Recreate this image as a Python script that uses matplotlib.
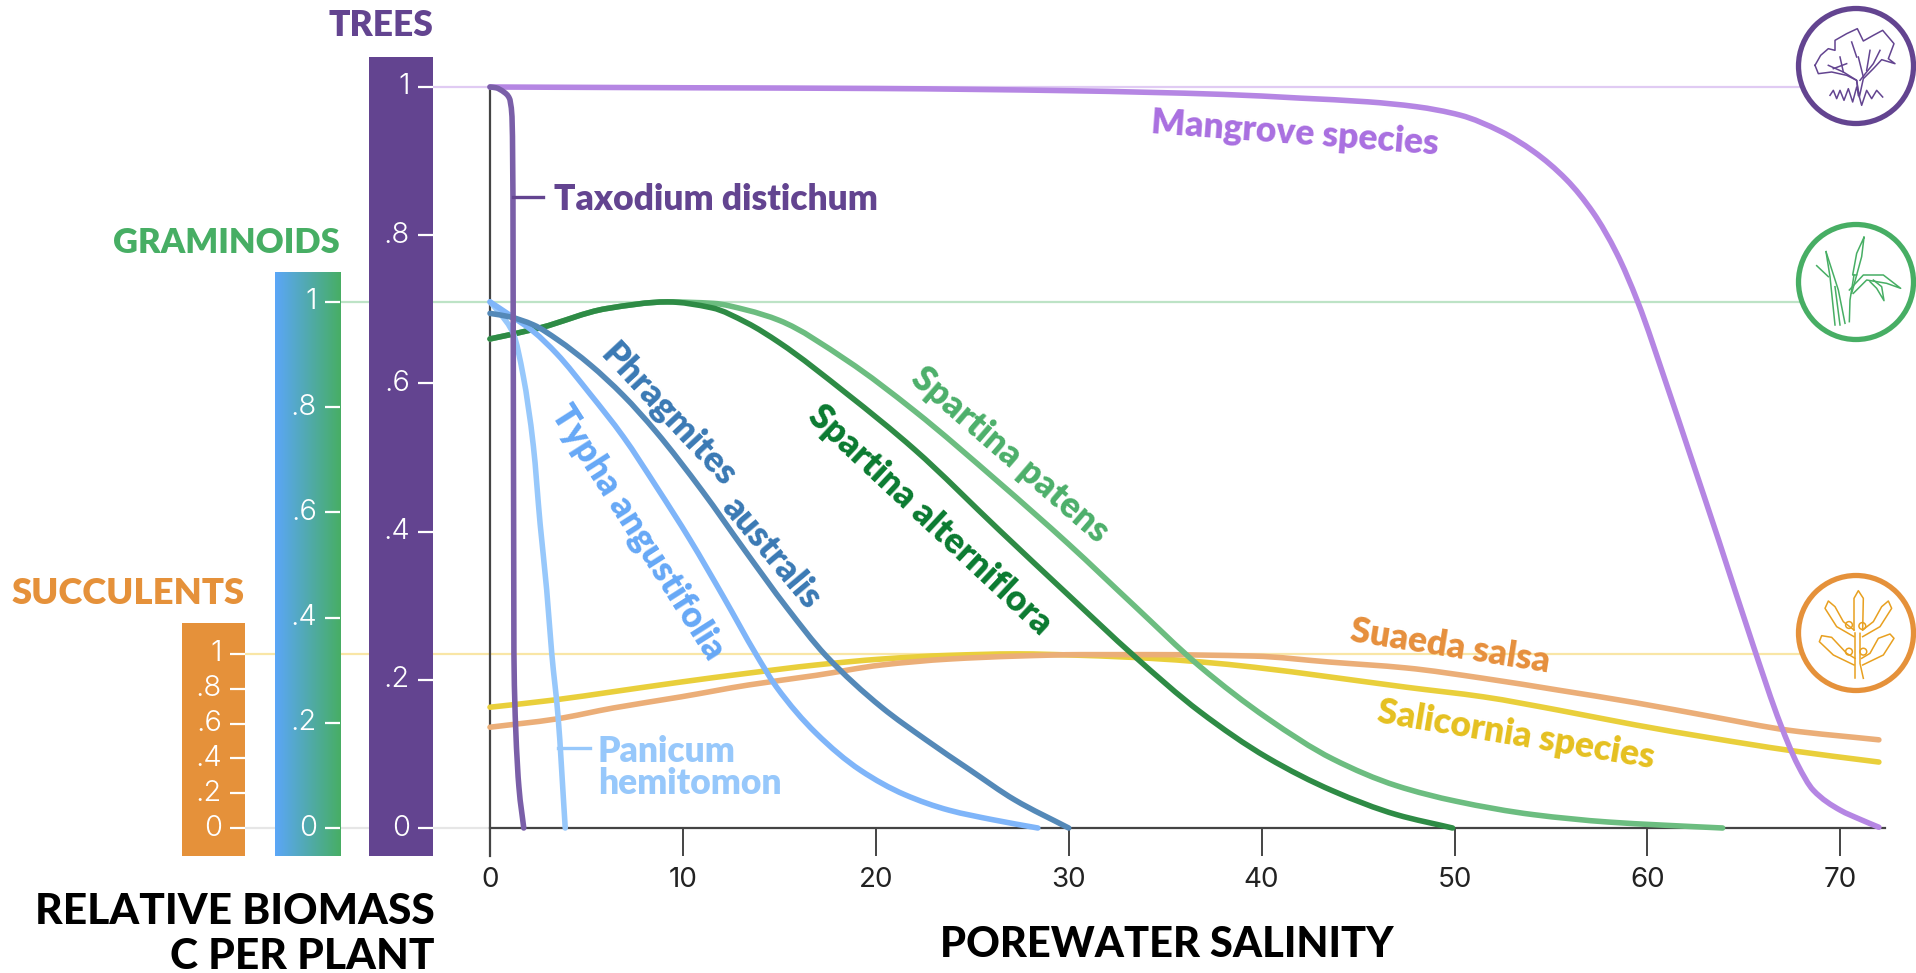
import numpy as np
import matplotlib
matplotlib.use("Agg")
import matplotlib.pyplot as plt
from matplotlib.colors import LinearSegmentedColormap
from matplotlib.patches import Circle, PathPatch
from matplotlib.path import Path

W, H = 1916, 973
FONT = "Lato"
NUMFONT = "Inter"

# ---- data: salinity (x) and relative biomass (y)
mangrove_x = [0, 10, 20, 30, 38, 42, 45.5, 48, 50.3, 52.4, 54.1, 55.8, 57.2, 58.4, 59.5, 61, 62.2, 63.7, 65.5, 66.9, 67.8, 68.6, 70, 71, 72]
mangrove_y = [1, .999, .998, .995, .99, .985, .98, .9735, .962, .94, .913, .875, .83, .776, .71, .598, .505, .388, .245, .14, .085, .051, .024, .012, .001]
taxodium_x = [0, .3, .73, 1.0, 1.14, 1.19, 1.24, 1.33, 1.5, 1.75]
taxodium_y = [1, .999, .993, .985, .96, .852, .236, .136, .055, 0]
panicum_x = [0, .5, 1.21, 1.73, 2.25, 2.6, 2.94, 3.2, 3.53, 3.9]
panicum_y = [.71, .695, .667, .609, .515, .41, .321, .236, .15, 0]
typha_x = [0, 1.04, 2.25, 3.46, 5.18, 6.91, 8.64, 10.37, 12.1, 13.8, 14.86, 16.9, 19.2, 21.5, 23.8, 26.1, 28.4]
typha_y = [.71, .692, .670, .640, .586, .528, .460, .389, .312, .234, .19, .128, .078, .045, .024, .011, 0]
phrag_x = [0, 1, 2.25, 3.5, 5.2, 6.9, 8.6, 11, 13.2, 15.4, 17.4, 20.3, 22.6, 24.9, 27.2, 30]
phrag_y = [.6945, .69, .679, .659, .625, .584, .535, .455, .375, .297, .233, .163, .119, .078, .038, 0]
altern_x = [0, 2.6, 6.05, 9.2, 11.5, 13.3, 15, 18.5, 22, 26.4, 30, 33.4, 36.8, 40.3, 43.7, 47, 49.9]
altern_y = [.66, .675, .701, .71, .702, .682, .655, .586, .511, .402, .314, .232, .157, .095, .05, .018, 0]
patens_x = [0, 2.6, 6.05, 9.2, 11.58, 13.3, 15, 18.5, 22, 26.4, 30, 33.4, 36.8, 40.3, 43.7, 47, 50.1, 54.1, 58, 60.7, 63.9]
patens_y = [.66, .675, .701, .71, .708, .699, .685, .631, .563, .466, .383, .30, .218, .148, .093, .057, .036, .018, .008, .004, 0]
salicornia_x = [0, 3.4, 6.4, 9.9, 13.4, 16.9, 20.3, 23.8, 27.3, 30.7, 34.2, 36.9, 39.6, 43.5, 47.5, 51.5, 55.4, 59.4, 63.4, 67.3, 72]
salicornia_y = [.163, .173, .184, .197, .209, .22, .228, .233, .235, .233, .229, .224, .217, .204, .19, .177, .159, .139, .121, .105, .089]
suaeda_x = [0, 3.4, 6.4, 9.9, 13.4, 16.9, 20.3, 23.8, 27.3, 30.7, 34.2, 39.6, 43.5, 47.5, 51.5, 55.4, 59.4, 63.4, 67.3, 72]
suaeda_y = [.136, .147, .162, .177, .193, .206, .22, .228, .232, .234, .234, .232, .224, .216, .202, .186, .169, .15, .132, .119]

x_ticks = [0, 10, 20, 30, 40, 50, 60, 70]
bar_ticks = [0, .2, .4, .6, .8, 1]
bar_tick_labels = ["0", ".2", ".4", ".6", ".8", "1"]
group_names = ["TREES", "GRAMINOIDS", "SUCCULENTS"]
group_tops = [1.0, 0.71, 0.235]   # height of each group's "1" on the main scale

PURPLE, GREEN, ORANGE = "#634490", "#47AE64", "#E5913A"

# ---- layout helpers (pixels in the 1916 x 973 picture)
X0, XU, Y0, YU = 490.0, 19.29, 828.0, 741.0
def dx(px): return (px - X0) / XU
def dy(py): return (Y0 - py) / YU

def smooth_path(xs, ys):
    """A Bezier path through the read points, with monotone tangents."""
    x, y = np.asarray(xs, float), np.asarray(ys, float)
    h = np.diff(x)
    s = np.diff(y) / h
    m = np.zeros_like(x)
    m[0], m[-1] = s[0], s[-1]
    for i in range(1, len(x) - 1):
        if s[i - 1] * s[i] > 0:
            w1, w2 = 2 * h[i] + h[i - 1], h[i] + 2 * h[i - 1]
            m[i] = (w1 + w2) / (w1 / s[i - 1] + w2 / s[i])
    verts, codes = [(x[0], y[0])], [Path.MOVETO]
    for i in range(len(x) - 1):
        verts += [(x[i] + h[i] / 3, y[i] + m[i] * h[i] / 3),
                  (x[i + 1] - h[i] / 3, y[i + 1] - m[i + 1] * h[i] / 3),
                  (x[i + 1], y[i + 1])]
        codes += [Path.CURVE4] * 3
    return Path(verts, codes)

fig = plt.figure(figsize=(W / 100, H / 100), dpi=100, facecolor="white")
plt.rcParams["font.family"] = [FONT, "DejaVu Sans"]
ax = fig.add_axes([0, 0, 1, 1], facecolor="none", zorder=1)
ax.set_xlim(dx(0), dx(W))
ax.set_ylim(dy(H), dy(0))

for s in ("top", "right"):
    ax.spines[s].set_visible(False)
ax.spines["bottom"].set_position(("data", 0))
ax.spines["bottom"].set_bounds(0, 72.3)
ax.spines["left"].set_position(("data", 0))
ax.spines["left"].set_bounds(dy(856), 1)
for s in ("bottom", "left"):
    ax.spines[s].set_color("#444444")
    ax.spines[s].set_linewidth(1.6)
ax.set_yticks([])
ax.set_xticks(x_ticks)
ax.set_xticklabels([str(v) for v in x_ticks], fontsize=20, family=NUMFONT, color="#222222")
ax.tick_params(axis="x", length=20, width=1.4, color="#444444", pad=8)

# reference lines from the bars to the icons
ax.hlines(1.0, dx(433), dx(1800), color="#E0CBF3", lw=1.6, zorder=1)
ax.hlines(0.71, dx(340), dx(1800), color="#BDE3C6", lw=1.6, zorder=1)
ax.hlines(0.235, dx(245), dx(1800), color="#F9E6A6", lw=1.6, zorder=1)
ax.hlines(0, dx(245), 0, color="#E6E6E6", lw=1.6, zorder=1)

# curves
LW = 4.0
curves = [
    (salicornia_x, salicornia_y, "#E9CF3B"),
    (suaeda_x, suaeda_y, "#EBAE78"),
    (patens_x, patens_y, "#6CBD80"),
    (altern_x, altern_y, "#2E8B45"),
    (panicum_x, panicum_y, "#97C8FB"),
    (typha_x, typha_y, "#7FB5F9"),
    (phrag_x, phrag_y, "#5489B8"),
    (mangrove_x, mangrove_y, "#B586E3"),
    (taxodium_x, taxodium_y, "#7A5FA8"),
]
for cx, cy, c in curves:
    ax.add_patch(PathPatch(smooth_path(cx, cy), fill=False, edgecolor=c, lw=LW,
                           capstyle="round", joinstyle="round", zorder=3))

# leader lines
ax.plot([dx(513), dx(543)], [dy(197), dy(197)], color="#634490", lw=2.4, zorder=3)
ax.plot([dx(558), dx(590)], [dy(748), dy(748)], color="#97C8FB", lw=2.4, zorder=3)

# curve labels: text, centre px, centre py, rotation, colour, size
LS = 25.5
LW8 = "heavy"
labels = [
    ("Mangrove species", 1295, 133, -4.3, "#A96FE0", LS),
    ("Phragmites", 669, 415, -47, "#3A79B4", LS),
    ("australis", 772, 553, -50, "#3A79B4", LS),
    ("Typha angustifolia", 638, 532, -57.5, "#66A8F6", LS),
    ("Spartina alterniflora", 930, 520, -43, "#0A7A30", LS),
    ("Spartina patens", 1010, 455, -40.8, "#4CAF6A", LS),
    ("Suaeda salsa", 1450, 646, -9, "#E68F3C", LS),
    ("Salicornia species", 1516, 735, -9.5, "#E5C020", LS),
]
for t, px, py, rot, c, fs in labels:
    ax.text(dx(px), dy(py), t, color=c, fontsize=fs, fontweight=LW8, rotation=rot,
            rotation_mode="anchor", ha="center", va="center", zorder=4)
ax.text(dx(554), dy(199), "Taxodium distichum", color="#634490", fontsize=LS, fontweight=LW8, ha="left", va="center")
ax.text(dx(598), dy(751), "Panicum", color="#97C8FB", fontsize=LS, fontweight=LW8, ha="left", va="center")
ax.text(dx(598), dy(783), "hemitomon", color="#97C8FB", fontsize=LS, fontweight=LW8, ha="left", va="center")

# headers and axis titles
HS = 25.5
ax.text(dx(433), dy(26), group_names[0], color=PURPLE, fontsize=HS, fontweight=LW8, ha="right", va="center")
ax.text(dx(340), dy(243), group_names[1], color=GREEN, fontsize=HS - .7, fontweight=LW8, ha="right", va="center")
ax.text(dx(245), dy(593), group_names[2], color=ORANGE, fontsize=HS + .7, fontweight=LW8, ha="right", va="center")
ax.text(dx(435), dy(912), "RELATIVE BIOMASS", color="black", fontsize=30.6, fontweight="black", ha="right", va="center")
ax.text(dx(435), dy(957), "C PER PLANT", color="black", fontsize=30.6, fontweight="black", ha="right", va="center")
ax.text(dx(1167), dy(945), "POREWATER SALINITY", color="black", fontsize=30, fontweight="black", ha="center", va="center")

# the three scale bars, each its own axes scaled so that 1 meets its group height
def bar_axes(x_left, x_right, group_top, colour=None):
    py_one = Y0 - group_top * YU
    scale = Y0 - py_one
    py_top = py_one - (30 if group_top > .5 else 31)
    a = fig.add_axes([x_left / W, 1 - 856 / H, (x_right - x_left) / W, (856 - py_top) / H], zorder=2)
    a.set_ylim((Y0 - 856) / scale, (Y0 - py_top) / scale)
    a.set_xlim(0, 1)
    if colour is None:
        cmap = LinearSegmentedColormap.from_list("g", ["#5BA6F8", GREEN])
        a.imshow(np.linspace(0, 1, 256).reshape(1, -1), cmap=cmap, aspect="auto",
                 extent=(0, 1, *a.get_ylim()), zorder=0)
    else:
        a.set_facecolor(colour)
    for s in a.spines.values():
        s.set_visible(False)
    a.set_xticks([])
    a.yaxis.tick_right()
    a.set_yticks(bar_ticks)
    a.set_yticklabels([])
    a.tick_params(axis="y", direction="in", length=10.5, width=1.6, color="white")
    width = x_right - x_left
    for v, lab in zip(bar_ticks, bar_tick_labels):
        a.text(1 - 23 / width, v, lab, color="white", fontsize=21, family=NUMFONT,
               fontweight=300, ha="right", va="center")
    return a

bar_axes(369, 433, group_tops[0], PURPLE)
bar_axes(274.5, 340, group_tops[1])
bar_axes(181.5, 245, group_tops[2], ORANGE)

# icons (line drawings; coordinates are in 3x crop pixels around each circle centre)
def icon(cx, cy, ring, ink, zc, strokes, dots=()):
    R = 62
    a = fig.add_axes([(cx - R) / W, 1 - (cy + R) / H, 2 * R / W, 2 * R / H], zorder=3)
    a.set_xlim(cx - R, cx + R)
    a.set_ylim(cy + R, cy - R)
    a.axis("off")
    a.add_patch(Circle((cx, cy), 57.5, fill=True, facecolor="white", edgecolor=ring, lw=3.8, clip_on=False))
    for st in strokes:
        p = np.array(st, float)
        a.plot(cx + (p[:, 0] - zc[0]) / 3, cy + (p[:, 1] - zc[1]) / 3, color=ink, lw=1.1, solid_joinstyle="round")
    for d in dots:
        a.add_patch(Circle((cx + (d[0] - zc[0]) / 3, cy + (d[1] - zc[1]) / 3), 3.4, fill=False, edgecolor=ink, lw=1.1))

tree = [
    [(345,195),(362,165),(385,145),(405,150),(405,120),(440,100),(472,85),(490,122),(520,105),(548,90),(582,130),(565,175),(585,190),(545,178),(520,205),(490,235),(478,290),(470,240),(440,225),(395,215),(355,220),(345,195)],
    [(475,285),(470,240),(430,215),(385,195)], [(430,215),(420,170)], [(480,240),(520,190),(540,150)],
    [(470,170),(455,125)], [(490,230),(475,170)], [(400,205),(440,190)],[(500,210),(510,150)],
    [(390,285),(400,270),(410,295),(420,270),(432,300),(445,265),(458,305),(470,260),(485,315),(500,270),(515,295),(530,270),(548,290)],
]
grass = [
    [(378,755),(390,830),(405,975)], [(378,755),(415,870),(435,970)], [(350,797),(385,830)],
    [(405,860),(420,975)],
    [(492,712),(470,760),(458,825),(470,825),(485,770),(492,712)],
    [(462,825),(450,900),(448,965)], [(470,825),(455,880)],
    [(448,870),(490,825),(550,825),(602,865),(560,850),(500,840),(460,880)],
    [(520,840),(545,860),(552,902),(530,865),(510,845)],
]
succ = [
    [(465,280),(465,415)], [(480,280),(480,370),(490,415)],
    [(462,270),(462,175),(475,152),(490,175),(488,270)],
    [(462,290),(410,260),(375,205),(385,183),(405,200),(430,245),(462,270)],
    [(488,290),(540,260),(575,205),(565,183),(545,200),(520,245),(488,270)],
    [(462,375),(400,345),(358,305),(365,287),(395,292),(440,340),(465,355)],
    [(488,375),(550,345),(582,295),(570,282),(535,295),(510,340),(485,355)],
]
icon(1856, 66, PURPLE, PURPLE, (468, 197), tree)
icon(1856, 282, GREEN, GREEN, (468, 846), grass)
icon(1856, 633, ORANGE, "#E8A020", (468, 279), succ, [(447,255),(487,258),(447,335),(490,335)])

fig.savefig("out.png", dpi=100, facecolor="white")
